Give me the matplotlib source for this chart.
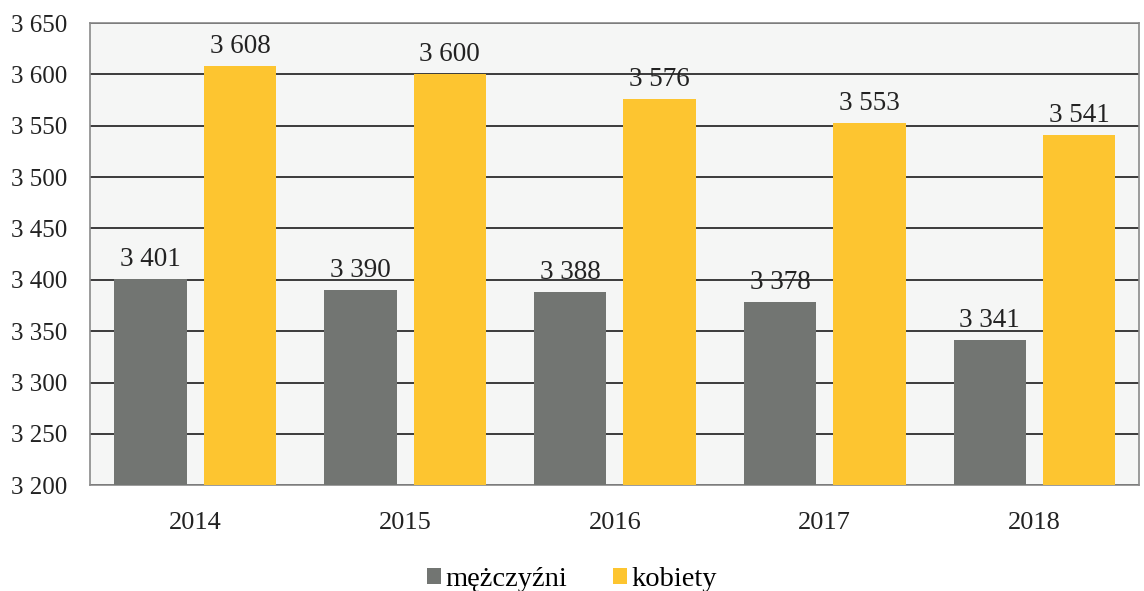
import matplotlib.pyplot as plt
import numpy as np

years = ["2014", "2015", "2016", "2017", "2018"]
men = [3401, 3390, 3388, 3378, 3341]
women = [3608, 3600, 3576, 3553, 3541]
yticks = [3200, 3250, 3300, 3350, 3400, 3450, 3500, 3550, 3600, 3650]

plt.rcParams['font.family'] = ['Liberation Serif', 'DejaVu Serif']

def fmt(v):
    return f"{v:,}".replace(",", " ")

fig = plt.figure(figsize=(11.44, 5.91), dpi=100)
ax = fig.add_axes([0.079, 0.179, 0.917, 0.782])
ax.set_facecolor('#f5f6f5')

x = np.arange(len(years))
w = 0.345
off = 0.213
b1 = ax.bar(x - off, men, w, color='#727572', label='mężczyźni', zorder=3)
b2 = ax.bar(x + off, women, w, color='#fdc530', label='kobiety', zorder=3)

for bars, vals in ((b1, men), (b2, women)):
    for r, v in zip(bars, vals):
        ax.annotate(fmt(v), (r.get_x() + r.get_width() / 2, v),
                    xytext=(0, 5), textcoords='offset points',
                    ha='center', va='bottom', fontsize=19.5, color='#222222')

ax.set_ylim(3200, 3650)
ax.set_xlim(-0.5, 4.5)
ax.set_yticks(yticks)
ax.set_yticklabels([fmt(t) for t in yticks])
ax.set_xticks(x)
ax.set_xticklabels(years)
ax.tick_params(axis='y', length=0, labelsize=18, colors='#222222', pad=17)
ax.tick_params(axis='x', length=0, labelsize=19, colors='#222222', pad=19)
ax.yaxis.grid(True, color='#3a3a3a', linewidth=1.4, zorder=1)
for s in ax.spines.values():
    s.set_color('#8a8a8a')
    s.set_linewidth(1.2)

fig.legend(loc='lower center', bbox_to_anchor=(0.5, -0.045), ncol=2, frameon=False,
           fontsize=20.5, handlelength=0.5, handleheight=0.5, handletextpad=0.15,
           columnspacing=1.6)

fig.savefig('out.png', dpi=100)
